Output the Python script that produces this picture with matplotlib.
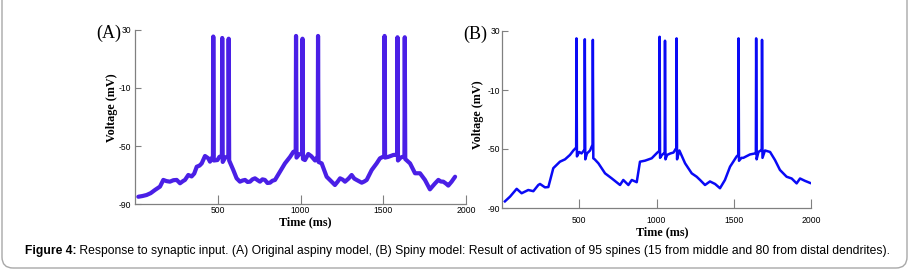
import matplotlib
matplotlib.use("Agg")
import matplotlib.pyplot as plt
from matplotlib.patches import FancyBboxPatch
import numpy as np

plt.rcParams['axes.unicode_minus'] = False

W, H = 916, 270

# ---------------- data ----------------
x_ticks = [500, 1000, 1500, 2000]
y_ticks = [-90, -50, -10, 30]

# Panel A (aspiny model): subthreshold trace
A_base_t = [20, 45, 70, 95, 121, 151, 171, 190, 211, 232, 252, 272, 290, 302, 322, 342, 358, 373, 390, 403, 423, 443, 453,
            498, 510, 545, 594, 614, 634, 650, 665, 680, 695, 710, 725, 740, 755, 770, 785, 800, 816, 830, 846, 876, 906, 937, 957,
            990, 1027, 1047, 1065, 1088, 1128, 1158, 1188, 1208, 1225, 1239, 1255, 1269, 1290, 1309, 1325, 1339, 1370,
            1385, 1400, 1430, 1460, 1480, 1530, 1561, 1605, 1662, 1692, 1722, 1752, 1782, 1800, 1813, 1833,
            1848, 1863, 1880, 1893, 1913, 1934]
A_base_v = [-85, -84.5, -83.8, -82.5, -80.3, -78, -73.4, -74.2, -74.6, -73.6, -73.4, -75.7, -74.2, -73.4, -70, -71, -69, -64.3, -63.5, -62, -56.9, -58.5, -60.8,
            -59.7, -57.5, -58, -66.6, -72.3, -74.6, -73.8, -73.4, -74.8, -74.6, -73, -72.3, -73.5, -74.6, -73, -73.4, -75.5, -75.3, -74, -73.4, -67.7, -62, -57.5, -54,
            -56, -59.7, -55.5, -57, -60, -62, -71.2, -74.6, -76.9, -74.5, -72.3, -73.2, -74.6, -72.5, -70, -72.5, -73.4, -75.3,
            -74.5, -73.4, -66.6, -62, -58.5, -57.5, -56.2, -58, -62, -68.8, -68.8, -73.4, -79.9, -77.5, -75.8, -73.4,
            -74.5, -74.6, -76, -77.3, -74.6, -71.2]
# Panel A spikes
A_spk_t = [473, 527, 566, 973, 1012, 1106, 1508, 1586, 1630]
A_spk_pre = [-57, -57, -57, -54, -55, -57, -57, -56, -57]
A_spk_peak = [25.5, 24.5, 24, 25.9, 24, 25.9, 25.9, 25, 25]
A_spk_trough = [-60, -61, -60, -58, -59, -61, -58, -60, -59]

# Panel B (spiny model): subthreshold trace
B_base_t = [19, 52, 95, 127, 170, 203, 235, 246, 278, 300, 332, 375, 408, 440, 462, 476,
            500, 515, 530, 550, 570, 582, 600, 624, 667, 710, 764, 785, 818, 840, 872, 893,
            926, 969, 1000, 1012, 1036, 1047, 1069, 1090, 1110, 1124, 1148, 1185, 1228, 1260,
            1282, 1314, 1346, 1379, 1411, 1443, 1476, 1497, 1519, 1550, 1562, 1605, 1638, 1660,
            1675, 1702, 1735, 1767, 1799, 1842, 1875, 1907, 1929, 1961, 1994]
B_base_v = [-85.5, -82.3, -77, -80, -77.8, -78.6, -74.4, -73.7, -76, -75.8, -63, -58.6, -57, -54, -51, -49.5,
            -52, -53, -51, -53, -51, -48, -57, -59.7, -66.5, -69.9, -74.4, -71, -74.4, -71, -72.5, -58.6,
            -57.9, -56.3, -53, -51.8, -54, -53, -54, -53, -52.4, -50, -51, -59.7, -66.5, -68.8,
            -71, -74.4, -72, -73.7, -76.6, -71, -62, -58.6, -55, -56, -56, -53.7, -53, -52,
            -51, -51, -52, -57.5, -64.2, -68.8, -70, -73.3, -70, -71.6, -73]
B_spk_t = [482, 536, 588, 1020, 1055, 1130, 1531, 1645, 1683]
B_spk_pre = [-49.5, -51, -48, -51.8, -53, -49.5, -54, -52, -50]
B_spk_peak = [25, 24.4, 24, 26.1, 23.4, 25, 25, 25, 24]
B_spk_trough = [-55, -57, -56.3, -56, -57, -57, -58, -57, -56]

caption_bold = "Figure 4:"
caption_rest = (" Response to synaptic input. (A) Original aspiny model, (B) Spiny model: Result of "
                "activation of 95 spines (15 from middle and 80 from distal dendrites).")


def build_trace(bt, bv, st, spre, speak, strough):
    t = list(bt)
    v = list(bv)
    for ti, p, pk, tr in zip(st, spre, speak, strough):
        t += [ti - 2, ti, ti + 3]
        v += [p, pk, tr]
    order = np.argsort(t, kind="stable")
    return np.asarray(t)[order], np.asarray(v)[order]


At, Av = build_trace(A_base_t, A_base_v, A_spk_t, A_spk_pre, A_spk_peak, A_spk_trough)
Bt, Bv = build_trace(B_base_t, B_base_v, B_spk_t, B_spk_pre, B_spk_peak, B_spk_trough)

fig = plt.figure(figsize=(W / 100, H / 100), dpi=100)
fig.patch.set_facecolor("white")


def fx(px):
    return px / W


def fy(py):
    return 1 - py / H


# border box
box = FancyBboxPatch((fx(2), fy(268)), fx(905), 1.2, boxstyle="round,pad=0,rounding_size=0.012",
                     transform=fig.transFigure, facecolor="none", edgecolor="#a8a8a8", lw=1.0,
                     mutation_aspect=W / H)
fig.patches.append(box)

spine_col = "#808080"


def style_ax(ax, xpad, ypad):
    for s in ["top", "right"]:
        ax.spines[s].set_visible(False)
    for s in ["left", "bottom"]:
        ax.spines[s].set_color(spine_col)
        ax.spines[s].set_linewidth(0.9)
    ax.set_xlim(0, 2000)
    ax.set_ylim(-90, 30)
    ax.set_xticks(x_ticks)
    ax.set_xticklabels([str(x) for x in x_ticks])
    ax.set_yticks(y_ticks)
    ax.set_yticklabels([str(y) for y in y_ticks])
    ax.tick_params(axis="x", direction="in", length=6.5, width=0.8, color=spine_col,
                   labelsize=6.2, pad=xpad)
    ax.tick_params(axis="y", direction="in", length=4.3, width=0.8, color=spine_col,
                   labelsize=6.2, pad=ypad)
    for lab in ax.get_xticklabels() + ax.get_yticklabels():
        lab.set_fontfamily("Liberation Sans")
    ax.patch.set_alpha(0)


axA = fig.add_axes([fx(135), fy(204), fx(331), 174 / H])
axA.plot(At, Av, color="#4a1fe6", lw=3.0, solid_joinstyle="round", solid_capstyle="round")
style_ax(axA, xpad=1.5, ypad=2.5)

axB = fig.add_axes([fx(502), fy(208), fx(309), 177 / H])
axB.plot(Bt, Bv, color="#0a0af5", lw=1.8, solid_joinstyle="round")
style_ax(axB, xpad=5.5, ypad=1.2)

lab_kw = dict(family="Liberation Serif", fontweight="bold", fontsize=8.7, ha="center", va="center")
fig.text(fx(112), fy(108), "Voltage (mV)", rotation=90, **lab_kw)
fig.text(fx(305), fy(222), "Time (ms)", **lab_kw)
fig.text(fx(478), fy(115), "Voltage (mV)", rotation=90, **lab_kw)
fig.text(fx(662), fy(232), "Time (ms)", **lab_kw)

fig.text(fx(109), fy(33), "(A)", family="Liberation Serif", fontsize=13, ha="center", va="center")
fig.text(fx(475), fy(34), "(B)", family="Liberation Serif", fontsize=13, ha="center", va="center")

# caption: fit to the reference width (x = 25 .. 886 px)
cap_fs = 7.4
t1 = fig.text(fx(25), fy(254), caption_bold, family="Liberation Sans", fontweight="bold",
              fontsize=cap_fs, ha="left", va="baseline")
t2 = fig.text(0, fy(254), caption_rest, family="Liberation Sans",
              fontsize=cap_fs, ha="left", va="baseline")
r = fig.canvas.get_renderer()
for _ in range(3):
    bb1 = t1.get_window_extent(r)
    t2.set_x(bb1.x1 / W)
    bb2 = t2.get_window_extent(r)
    total = bb2.x1 - bb1.x0
    cap_fs = cap_fs * (886 - 25) / total
    t1.set_fontsize(cap_fs)
    t2.set_fontsize(cap_fs)
bb1 = t1.get_window_extent(r)
t2.set_x(bb1.x1 / W)

fig.savefig("out.png", dpi=100)
